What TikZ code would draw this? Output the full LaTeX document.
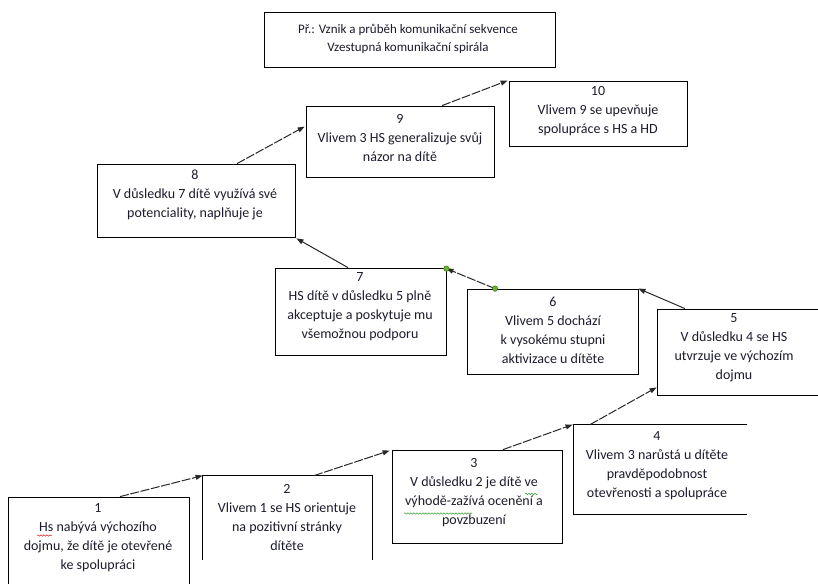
\documentclass[tikz,border=0pt]{standalone}
\usepackage{fontspec}
\setmainfont{Carlito}
\usetikzlibrary{arrows.meta,decorations.pathmorphing}

\definecolor{ink}{RGB}{28,28,44}
\definecolor{linkc}{RGB}{40,40,40}
\definecolor{handle}{RGB}{110,176,50}
\definecolor{handleedge}{RGB}{50,100,20}
\definecolor{spellred}{RGB}{220,30,30}
\definecolor{spellgreen}{RGB}{60,160,60}

\tikzset{
  frame/.style={rectangle, inner sep=0pt, line width=0.8pt},
  stepbox/.style={frame, draw=black},
  openbox/.style={frame, draw=none},
  label/.style={align=center, inner sep=0pt, text=ink,
    font=\fontsize{14}{19}\selectfont,
    execute at begin node=\strut, execute at end node=\strut},
  link/.style={-{Triangle[length=7pt,width=5pt]}, line width=1pt, draw=linkc},
  dashlink/.style={link, dash pattern=on 9pt off 1.6pt},
  grip/.style={circle, fill=handle, draw=handleedge, line width=0.4pt,
    inner sep=0pt, minimum size=5.5pt},
  squiggle/.style={line width=0.5pt,
    decorate, decoration={snake, amplitude=0.7pt, segment length=3pt}}
}

\begin{document}
\begin{tikzpicture}[x={(1pt,0pt)}, y={(0pt,-1pt)}]
\clip (0,0) rectangle (818,583);
\fill[white] (0,0) rectangle (818,583);

% heading
\node[stepbox, minimum width=291pt, minimum height=55pt] (head) at (409.5,39.5) {};
\node[label, font=\fontsize{13}{18}\selectfont] (headtext) at (408,41)
  {Př.: Vznik a průběh komunikační sekvence\\Vzestupná komunikační spirála};

% the steps of the spiral
\node[stepbox, minimum width=181pt, minimum height=103pt] (b1) at (98.5,548.5) {};
\node[openbox, minimum width=169pt, minimum height=84pt] (b2) at (287.5,518) {};
\node[stepbox, minimum width=170pt, minimum height=93pt] (b3) at (477,496.5) {};
\node[openbox, minimum width=173pt, minimum height=89pt] (b4) at (660.5,469.5) {};
\node[stepbox, minimum width=173pt, minimum height=86pt] (b5) at (743.5,352) {};
\node[stepbox, minimum width=171pt, minimum height=85pt] (b6) at (552.5,331.5) {};
\node[stepbox, minimum width=171pt, minimum height=87pt] (b7) at (360.5,311.5) {};
\node[stepbox, minimum width=198pt, minimum height=73pt] (b8) at (196,200.5) {};
\node[stepbox, minimum width=188pt, minimum height=71pt] (b9) at (400,141.5) {};
\node[stepbox, minimum width=178pt, minimum height=65pt] (b10) at (598,113.5) {};

% boxes with a missing side
\draw[line width=0.8pt] (b2.south west) -- (b2.north west) -- (b2.north east) -- (b2.south east);
\draw[line width=0.8pt] (b4.north east) -- (b4.north west) -- (b4.south west) -- (b4.south east);

% texts
\node[label] (t1) at (98,539.5) {1\\Hs nabývá výchozího\\dojmu, že dítě je otevřené\\ke spolupráci};
\node[label] (t2) at (287,520) {2\\Vlivem 1 se HS orientuje\\na pozitivní stránky\\dítěte};
\node[label] (t3) at (474,494) {3\\V důsledku 2 je dítě ve\\výhodě-zažívá ocenění a\\povzbuzení};
\node[label] (t4) at (657,467) {4\\Vlivem 3 narůstá u dítěte\\pravděpodobnost\\otevřenosti a spolupráce};
\node[label] (t5) at (734,349.5) {5\\V důsledku 4 se HS\\utvrzuje ve výchozím\\dojmu};
\node[label] (t6) at (553,333) {6\\Vlivem 5 dochází\\k vysokému stupni\\aktivizace u dítěte};
\node[label] (t7) at (360,308) {7\\HS dítě v důsledku 5 plně\\akceptuje a poskytuje mu\\všemožnou podporu};
\node[label] (t8) at (195,197) {8\\V důsledku 7 dítě využívá své\\potenciality, naplňuje je};
\node[label] (t9) at (400,141) {9\\Vlivem 3 HS generalizuje svůj\\názor na dítě};
\node[label] (t10) at (598,113) {10\\Vlivem 9 se upevňuje\\spolupráce s HS a HD};

% proofing marks under the words
\draw[squiggle, spellred] (37,535.5) -- (52,535.5);
\draw[squiggle, spellgreen] (525,494) -- (538,494);
\draw[squiggle, spellgreen] (404,513.5) -- (472,513.5);

% connectors
\draw[dashlink] ([xshift=21.5pt]b1.north) -- (b2.north west);
\draw[dashlink] ([xshift=26.5pt]b2.north) -- ([xshift=-2pt,yshift=-1pt]b3.north west);
\draw[dashlink] ([xshift=26pt]b3.north) -- ([xshift=-1pt]b4.north west);
\draw[dashlink] ([xshift=-70.5pt]b4.north) -- ([yshift=8pt]b5.south west);
\draw[link] ([xshift=-58.5pt]b5.north) -- (b6.north east);
\draw[dashlink] ([xshift=-57.5pt]b6.north) -- ([yshift=-1pt]b7.north east);
\draw[link] ([xshift=-12.5pt]b7.north) -- ([xshift=1pt,yshift=-1pt]b8.south east);
\draw[dashlink] ([xshift=41pt]b8.north) -- ([xshift=-1pt,yshift=-21pt]b9.north west);
\draw[dashlink] ([xshift=42pt]b9.north) -- ([xshift=-1pt]b10.north west);

% selection handles of the connector between 6 and 7
\node[grip] (g1) at ([xshift=-57.5pt]b6.north) {};
\node[grip] (g2) at ([yshift=-1pt]b7.north east) {};
\end{tikzpicture}
\end{document}
